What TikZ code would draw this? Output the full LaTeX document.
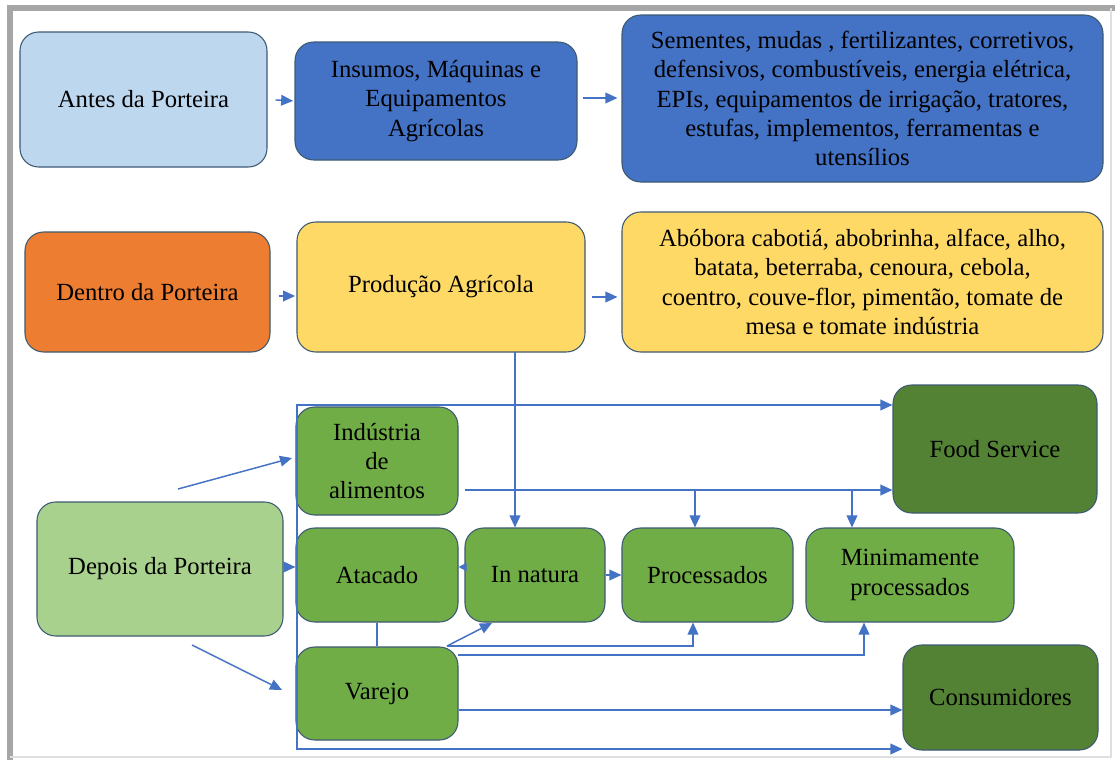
\documentclass[tikz,border=0pt]{standalone}
\usepackage{fontspec}
\setmainfont{Liberation Serif}[Scale=1.0]
\newfontfamily\boxfont{Liberation Serif}
\usetikzlibrary{arrows.meta,calc}
\definecolor{lblue}{HTML}{BDD7EE}
\definecolor{mblue}{HTML}{4472C4}
\definecolor{orng}{HTML}{ED7D31}
\definecolor{yell}{HTML}{FFD966}
\definecolor{grn}{HTML}{70AD47}
\definecolor{dgrn}{HTML}{548235}
\definecolor{lgrn}{HTML}{A9D18E}
\definecolor{edge}{HTML}{3E5A72}
\definecolor{arrc}{HTML}{4472C4}
\tikzset{
  box/.style={draw=edge, line width=0.8pt, rounded corners=14pt, align=center, inner sep=0pt,
    font=\boxfont\fontsize{18.5}{22}\selectfont, text=black},
  tip/.style={-{Triangle[length=9pt,width=8pt]}},
  arr/.style={draw=arrc, line width=1.1pt, tip},
  ln/.style={draw=arrc, line width=1.1pt},
}
\begin{document}
\begin{tikzpicture}[x=0.75pt,y=-0.75pt]
\fill[white] (0,0) rectangle (1115,760);
\useasboundingbox (0,0) rectangle (1115,760);
% frame
\draw[gray!70, line width=4pt] (10,760) -- (10,8) -- (1115,8);
\draw[gray!25, line width=1.5pt] (1111,8) -- (1111,757) -- (10,757);

% row 1
\node[box, fill=lblue, minimum width=185.25pt, minimum height=101.25pt] (antes) at (143.5,99.5) {Antes da Porteira};
\node[box, fill=mblue, minimum width=211.5pt, minimum height=88.5pt] (insumos) at (436,101) {Insumos, Máquinas e\\Equipamentos\\Agrícolas};
\node[box, fill=mblue, minimum width=360.75pt, minimum height=125.25pt] (sementes) at (862.5,98.5) {Sementes, mudas , fertilizantes, corretivos,\\defensivos, combustíveis, energia elétrica,\\EPIs, equipamentos de irrigação, tratores,\\estufas, implementos, ferramentas e\\utensílios};

% row 2
\node[box, fill=orng, minimum width=183.75pt, minimum height=90pt] (dentro) at (147.5,292) {Dentro da Porteira};
\node[box, fill=yell, minimum width=216pt, minimum height=97.5pt] (producao) at (441,287) {Produção Agrícola};
\node[box, fill=yell, minimum width=360.75pt, minimum height=105pt] (abobora) at (862.5,282) {Abóbora cabotiá, abobrinha, alface, alho,\\batata, beterraba, cenoura, cebola,\\coentro, couve-flor, pimentão, tomate de\\mesa e tomate indústria};

% row 3
\node[box, fill=grn, minimum width=121.5pt, minimum height=81pt] (industria) at (377,461) {Indústria\\de\\alimentos};
\node[box, fill=dgrn, minimum width=153pt, minimum height=96pt] (food) at (995,449) {Food Service};
\node[box, fill=lgrn, minimum width=184.5pt, minimum height=100.5pt] (depois) at (160,569) {Depois da Porteira};
\node[box, fill=grn, minimum width=121.5pt, minimum height=70.5pt] (atacado) at (377,575) {Atacado};
\node[box, fill=grn, minimum width=105pt, minimum height=70.5pt] (innatura) at (535,575) {In natura};
\node[box, fill=grn, minimum width=128.25pt, minimum height=70.5pt] (processados) at (707.5,575) {Processados};
\node[box, fill=grn, minimum width=156pt, minimum height=70.5pt] (minimamente) at (910,575) {Minimamente\\processados};
\node[box, fill=grn, minimum width=121.5pt, minimum height=69.75pt] (varejo) at (377,693.5) {Varejo};
\node[box, fill=dgrn, minimum width=146.25pt, minimum height=78.75pt] (consumidores) at (1000.5,697.5) {Consumidores};

% row arrows
\draw[arr, shorten <=6pt, shorten >=1pt] (antes.east) -- (insumos.west);
\draw[arr, shorten <=4pt, shorten >=3pt] (insumos.east |- 0,98) -- (sementes.west |- 0,98);
\draw[arr, shorten <=6pt, shorten >=1pt] (dentro.east |- 0,296) -- (producao.west |- 0,296);
\draw[arr, shorten <=5pt, shorten >=3pt] (producao.east |- 0,297) -- (abobora.west |- 0,297);

% produção -> in natura
\coordinate (pj) at (515,352);
\draw[arr] (pj) -- (pj |- innatura.north);

% depois -> industria / atacado / varejo
\coordinate (d1) at (178,489);
\coordinate (d1e) at (292,458);
\draw[arr] (d1) -- (d1e);
\draw[arr] (depois.east |- 0,567) -- (atacado.west |- 0,567);
\coordinate (d3) at (192,645);
\coordinate (d3e) at (282,690);
\draw[arr] (d3) -- (d3e);

% outer loop food service <-> consumidores
\coordinate (lt) at (297,405);
\coordinate (lb) at (297,749);
\draw[arr, {Triangle[length=9pt,width=8pt]}-{Triangle[length=9pt,width=8pt]}] (food.west |- lt) -- (lt) -- (lb) -- (consumidores.west |- lb);

% industria -> food service with branches
\coordinate (ij) at (465,490);
\draw[arr] (ij) -- (food.west |- ij);
\coordinate (b1) at (695,490);
\coordinate (b2) at (852,490);
\draw[arr] (b1) -- (b1 |- processados.north);
\draw[arr] (b2) -- (b2 |- minimamente.north);

% in natura -> atacado, in natura -> processados
\draw[arr, -{Triangle[length=6pt,width=6pt]}] (innatura.west |- 0,567) -- (atacado.east |- 0,567);
\draw[arr] (innatura.east) -- (processados.west);

% atacado - varejo
\draw[ln] (atacado.south) -- (varejo.north);

% varejo branches
\coordinate (v0) at (447,646);
\coordinate (v0e) at (492,623);
\draw[arr] (v0) -- (v0e);
\coordinate (v1) at (693,646);
\draw[arr] (v0) -- (v1) -- (v1 |- processados.south);
\coordinate (v2s) at (458,655);
\coordinate (v2) at (864,655);
\draw[arr] (v2s) -- (v2) -- (v2 |- minimamente.south);
\draw[arr] (varejo.east |- 0,710) -- (consumidores.west |- 0,710);
\end{tikzpicture}
\end{document}
